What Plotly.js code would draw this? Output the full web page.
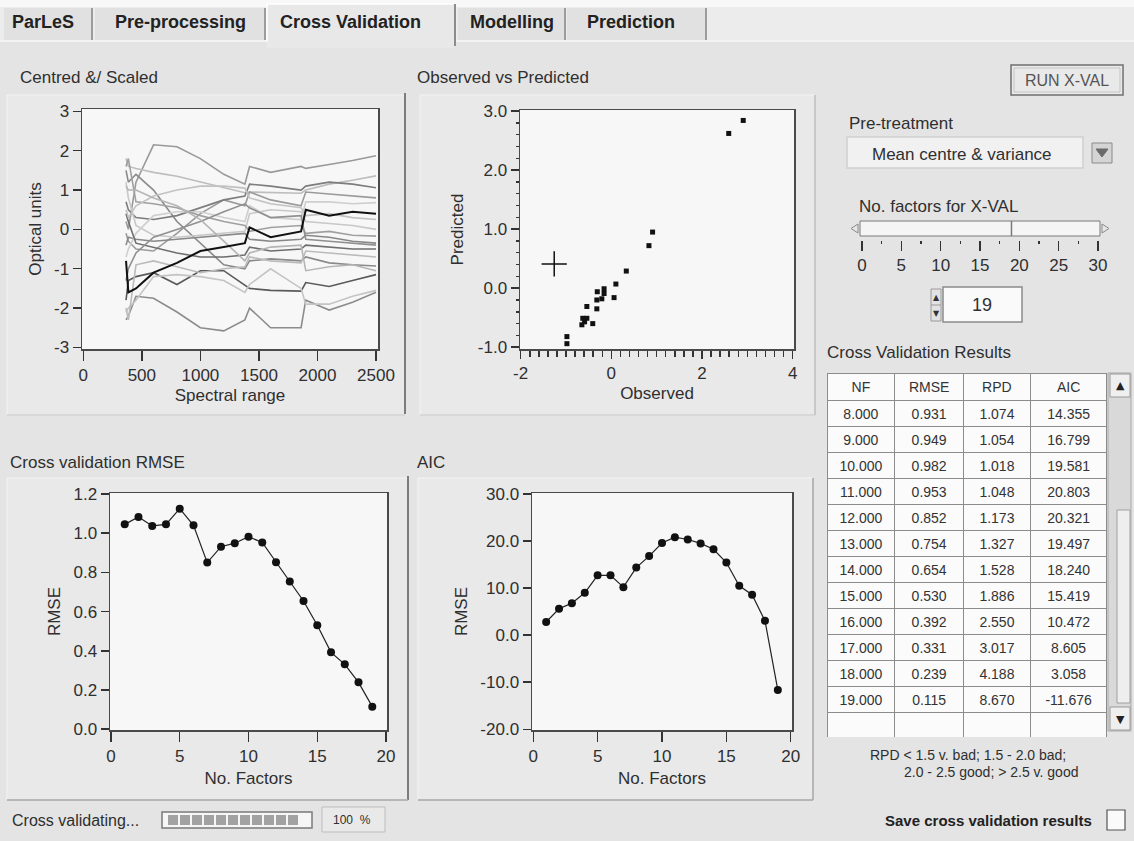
<!DOCTYPE html>
<html><head><meta charset="utf-8">
<script src="https://cdn.plot.ly/plotly-3.0.1.min.js"></script>
<style>html,body{margin:0;padding:0;background:#e4e4e4;overflow:hidden}</style>
</head><body><div id="chart" style="width:1134px;height:841px"></div>
<script>
// ================= DATA =================
// Centred & Scaled spectra (optical units at spectral positions)
const spectralX = [365, 385, 450, 600, 800, 1000, 1200, 1380, 1420, 1600, 1860, 1900, 2100, 2300, 2500];
const spectrum01 = [-0.8, -1.6, -1.5, -1.1, -0.85, -0.55, -0.45, -0.35, 0.05, -0.2, -0.05, 0.5, 0.35, 0.45, 0.4];
const spectrum02 = [-1.8, -1.3, -1.2, -1.1, -1.4, -1.05, -1.05, -1.4, -1.5, -1.55, -1.57, -1.35, -1.45, -1.3, -1.15];
const spectrum03 = [-2.3, -2.2, -1.7, -1.75, -2.1, -2.5, -2.58, -2.3, -2.0, -2.5, -2.5, -1.8, -2.05, -1.85, -1.6];
const spectrum04 = [-2.1, -2.0, -1.8, -1.2, -1.15, -1.2, -1.3, -1.6, -1.4, -1.0, -1.5, -1.9, -1.9, -1.7, -1.55];
const spectrum05 = [0.2, 0.0, 1.2, 2.15, 2.1, 1.8, 1.4, 1.15, 1.6, 1.45, 1.6, 1.55, 1.65, 1.75, 1.87];
const spectrum06 = [1.8, 1.6, 1.55, 1.45, 1.35, 1.2, 1.05, 0.93, 0.95, 0.93, 0.92, 1.0, 1.15, 1.25, 1.36];
const spectrum07 = [1.5, 1.2, 1.4, 1.0, 0.2, -0.35, -0.9, -1.0, -0.8, -0.75, -0.8, -0.7, -0.85, -0.9, -0.93];
const spectrum08 = [-0.1, -0.3, -0.5, -0.55, -0.1, 0.4, 0.75, 0.6, 0.95, 0.75, 0.6, 0.95, 0.9, 0.85, 0.8];
const spectrum09 = [0.7, 0.5, 0.3, 0.25, 0.35, 0.55, 0.75, 0.85, 1.15, 1.1, 1.0, 1.1, 1.2, 1.15, 1.06];
const spectrum10 = [1.2, 0.8, 0.1, -0.15, -0.2, -0.15, -0.1, -0.05, 0.4, 0.5, 0.45, 0.2, 0.15, 0.1, 0.0];
const spectrum11 = [-0.4, -0.2, -0.25, -0.3, -0.25, -0.2, -0.15, -0.1, -0.25, -0.3, -0.25, -0.15, -0.2, -0.3, -0.35];
const spectrum12 = [-0.7, -0.5, -0.1, 0.35, 0.45, 0.45, 0.3, 0.2, 0.6, 0.3, 0.25, 0.7, 0.7, 0.65, 0.68];
const spectrum13 = [0.4, 0.2, -0.35, -0.45, -0.6, -0.7, -0.7, -0.65, -0.45, -0.55, -0.5, -0.4, -0.45, -0.5, -0.5];
const spectrum14 = [-2.0, -2.3, -0.9, -0.8, -0.95, -1.1, -1.0, -0.95, -0.7, -0.8, -0.85, -0.55, -0.6, -0.65, -0.7];
const spectrum15 = [1.6, 1.8, 0.7, 0.65, 0.55, 0.35, 0.2, 0.1, -0.05, 0.05, 0.1, -0.1, -0.05, -0.15, -0.17];
const spectrum16 = [0.5, 0.3, 0.6, 0.85, 1.0, 1.1, 1.1, 1.05, 0.8, 0.65, 0.55, 0.35, 0.4, 0.3, 0.25];
const spectrum17 = [-1.3, -1.0, -0.6, -0.2, 0.0, 0.2, 0.45, 0.65, 0.55, 0.3, 0.35, -0.25, -0.3, -0.35, -0.4];
const spectrum18 = [1.1, 1.0, 1.0, 0.8, 0.6, 0.25, -0.3, -0.8, -0.6, -0.45, -0.4, -1.05, -0.95, -0.9, -1.05];
const spectralTicks = [0, 500, 1000, 1500, 2000, 2500];
const opticalTicks = [-3, -2, -1, 0, 1, 2, 3];
const opticalTickText = ['-3', '-2', '-1', '0', '1', '2', '3'];

// Observed vs Predicted
const observed  = [2.91, 2.59, 0.91, 0.83, 0.33, 0.10, 0.06, -0.16, -0.16, -0.21, -0.31, -0.32, -0.32, -0.54, -0.54, -0.59, -0.65, -0.41, -0.63, -0.98, -0.98];
const predicted = [2.84, 2.62, 0.95, 0.72, 0.29, 0.07, -0.16, -0.01, -0.09, -0.18, -0.06, -0.20, -0.35, -0.31, -0.51, -0.57, -0.62, -0.60, -0.51, -0.82, -0.94];
const cursorObserved = [-1.26];
const cursorPredicted = [0.41];
const observedTicks = [-2, 0, 2, 4];
const observedTickText = ['-2', '0', '2', '4'];
const predictedTicks = [-1, 0, 1, 2, 3];
const predictedTickText = ['-1.0', '0.0', '1.0', '2.0', '3.0'];

// Cross validation results by number of factors
const factors = [1, 2, 3, 4, 5, 6, 7, 8, 9, 10, 11, 12, 13, 14, 15, 16, 17, 18, 19];
const rmse = [1.045, 1.083, 1.037, 1.045, 1.125, 1.040, 0.850, 0.931, 0.949, 0.982, 0.953, 0.852, 0.754, 0.654, 0.530, 0.392, 0.331, 0.239, 0.115];
const aic  = [2.8, 5.6, 6.8, 9.0, 12.7, 12.7, 10.2, 14.355, 16.799, 19.581, 20.803, 20.321, 19.497, 18.240, 15.419, 10.472, 8.605, 3.058, -11.676];
const factorTicks = [0, 5, 10, 15, 20];
const rmseTicks = [0, 0.2, 0.4, 0.6, 0.8, 1.0, 1.2];
const aicTicks = [-20, -10, 0, 10, 20, 30];
const aicTickText = ['-20.0', '-10.0', '0.0', '10.0', '20.0', '30.0'];

// Results table (rows shown)
const tableNF   = [8, 9, 10, 11, 12, 13, 14, 15, 16, 17, 18, 19];
const tableRMSE = [0.931, 0.949, 0.982, 0.953, 0.852, 0.754, 0.654, 0.530, 0.392, 0.331, 0.239, 0.115];
const tableRPD  = [1.074, 1.054, 1.018, 1.048, 1.173, 1.327, 1.528, 1.886, 2.550, 3.017, 4.188, 8.670];
const tableAIC  = [14.355, 16.799, 19.581, 20.803, 20.321, 19.497, 18.240, 15.419, 10.472, 8.605, 3.058, -11.676];
const tableHeader = ['NF', 'RMSE', 'RPD', 'AIC'];

// Slider for number of factors
const sliderTicks = [0, 5, 10, 15, 20, 25, 30];
const selectedFactors = 19;
const progressPercent = 100;

// ================= DRAWING =================
const W = 1134, H = 841;
const F = 'Liberation Sans, Arial, sans-serif';
const TXT = '#2f2f2f';
const FS = 17;
const PX = x => x / W, PY = y => 1 - y / H;

function rect(x0, y0, x1, y1, fill, lc, lw) {
  return {type: 'rect', xref: 'paper', yref: 'paper', x0: PX(x0), x1: PX(x1), y0: PY(y1), y1: PY(y0),
    fillcolor: fill || 'rgba(0,0,0,0)', line: {color: lc || 'rgba(0,0,0,0)', width: lc ? (lw || 1) : 0}, layer: 'below'};
}
function seg(x0, y0, x1, y1, c, w) {
  return {type: 'line', xref: 'paper', yref: 'paper', x0: PX(x0), x1: PX(x1), y0: PY(y0), y1: PY(y1),
    line: {color: c, width: w || 1}, layer: 'below'};
}
function poly(pts, fill, lc) {
  const d = pts.map((p, i) => (i ? 'L ' : 'M ') + PX(p[0]) + ' ' + PY(p[1])).join(' ') + ' Z';
  return {type: 'path', xref: 'paper', yref: 'paper', path: d, fillcolor: fill, line: {color: lc || fill, width: 1}, layer: 'below'};
}
function ann(x, y, text, size, opts) {
  return Object.assign({xref: 'paper', yref: 'paper', x: PX(x), y: PY(y), text: text, showarrow: false,
    xanchor: 'left', yanchor: 'middle', font: {family: F, size: size, color: TXT}}, opts || {});
}
function plotBg(xa, ya, xr, yr) {
  return {type: 'rect', xref: xa, yref: ya, x0: xr[0], x1: xr[1], y0: yr[0], y1: yr[1],
    fillcolor: '#f7f7f7', line: {width: 0}, layer: 'below'};
}

const ranges = {
  x1: [-11, 2517], y1: [-3.04, 3.06],
  x2: [-2.015, 4.03], y2: [-1.03, 3.017],
  x3: [-0.07, 20.07], y3: [-0.004, 1.205],
  x4: [-0.1, 20.1], y4: [-20.15, 30.2]
};

const spectra = [spectrum02, spectrum03, spectrum04, spectrum05, spectrum06, spectrum07, spectrum08, spectrum09,
  spectrum10, spectrum11, spectrum12, spectrum13, spectrum14, spectrum15, spectrum16, spectrum17, spectrum18, spectrum01];
const spectraColors = ['#5a5a5a', '#8c8c8c', '#c4c4c4', '#999999', '#bdbdbd', '#8a8a8a', '#9a9a9a', '#7d7d7d',
  '#c8c8c8', '#888888', '#cfcfcf', '#6e6e6e', '#bbbbbb', '#a0a0a0', '#c2c2c2', '#909090', '#b5b5b5', '#111111'];

const traces = [];
spectra.forEach((s, i) => {
  traces.push({type: 'scatter', mode: 'lines', x: spectralX, y: s, xaxis: 'x', yaxis: 'y',
    line: {color: spectraColors[i], width: i === spectra.length - 1 ? 2 : 1.6}, hoverinfo: 'skip'});
});
traces.push({type: 'scatter', mode: 'markers', x: observed, y: predicted, xaxis: 'x2', yaxis: 'y2',
  marker: {symbol: 'square', size: 5, color: '#111'}, hoverinfo: 'skip'});
traces.push({type: 'scatter', mode: 'markers', x: cursorObserved, y: cursorPredicted, xaxis: 'x2', yaxis: 'y2',
  marker: {symbol: 'cross-thin-open', size: 18, color: '#111', line: {color: '#111', width: 1.5}}, hoverinfo: 'skip'});
traces.push({type: 'scatter', mode: 'lines+markers', x: factors, y: rmse, xaxis: 'x3', yaxis: 'y3',
  line: {color: '#222', width: 1.2}, marker: {symbol: 'circle', size: 8, color: '#111'}, hoverinfo: 'skip'});
traces.push({type: 'scatter', mode: 'lines+markers', x: factors, y: aic, xaxis: 'x4', yaxis: 'y4',
  line: {color: '#222', width: 1.2}, marker: {symbol: 'circle', size: 8, color: '#111'}, hoverinfo: 'skip'});
traces.push({type: 'scatter', mode: 'markers', x: [selectedFactors], y: [0.5], xaxis: 'x5', yaxis: 'y5',
  marker: {opacity: 0}, hoverinfo: 'skip'});

const fmt = v => v.toFixed(3);
traces.push({type: 'table',
  domain: {x: [PX(827), PX(1108)], y: [PY(738), PY(373)]},
  columnwidth: [68, 69, 67, 77],
  header: {values: tableHeader, height: 27, align: 'center', fill: {color: '#fbfbfb'},
    line: {color: '#8c8c8c', width: 1}, font: {family: F, size: 14, color: '#333'}},
  cells: {values: [tableNF.map(fmt).concat(['']), tableRMSE.map(fmt).concat(['']),
                   tableRPD.map(fmt).concat(['']), tableAIC.map(fmt).concat([''])],
    height: 26, align: 'center', fill: {color: '#fbfbfb'},
    line: {color: '#8c8c8c', width: 1}, font: {family: F, size: 14, color: '#333'}}
});

const axBase = {showline: true, mirror: true, linecolor: '#4a4a4a', linewidth: 1.5, ticks: 'outside',
  tickcolor: '#333', tickwidth: 1.5, showgrid: false, zeroline: false, fixedrange: true, automargin: false,
  tickfont: {family: F, size: FS, color: TXT}};
const ttl = (t, s) => ({text: t, standoff: s, font: {family: F, size: FS, color: TXT}});

const layout = {
  width: W, height: H, margin: {l: 0, r: 0, t: 0, b: 0, pad: 0},
  paper_bgcolor: '#e4e4e4', plot_bgcolor: 'rgba(0,0,0,0)', showlegend: false,
  font: {family: F, color: TXT},
  xaxis: Object.assign({}, axBase, {domain: [PX(82), PX(378)], anchor: 'y', range: ranges.x1,
    tickmode: 'array', tickvals: spectralTicks, ticklen: 10, title: ttl('Spectral range', 5)}),
  yaxis: Object.assign({}, axBase, {domain: [PY(349), PY(109)], anchor: 'x', range: ranges.y1,
    tickmode: 'array', tickvals: opticalTicks, ticktext: opticalTickText, ticklen: 8, title: ttl('Optical units', 8)}),
  xaxis2: Object.assign({}, axBase, {domain: [PX(520), PX(794)], anchor: 'y2', range: ranges.x2,
    tickmode: 'array', tickvals: observedTicks, ticktext: observedTickText, ticklen: 8,
    minor: {ticks: 'outside', tick0: 0, dtick: 0.2, ticklen: 6, tickwidth: 1.5, tickcolor: '#333'},
    title: ttl('Observed', 5)}),
  yaxis2: Object.assign({}, axBase, {domain: [PY(349), PY(110)], anchor: 'x2', range: ranges.y2,
    tickmode: 'array', tickvals: predictedTicks, ticktext: predictedTickText, ticklen: 8,
    minor: {ticks: 'outside', tick0: 0, dtick: 0.2, ticklen: 3, tickwidth: 1.5, tickcolor: '#333'},
    title: ttl('Predicted', 10)}),
  xaxis3: Object.assign({}, axBase, {domain: [PX(110), PX(387)], anchor: 'y3', range: ranges.x3,
    tickmode: 'array', tickvals: factorTicks, ticklen: 10, title: ttl('No. Factors', 7)}),
  yaxis3: Object.assign({}, axBase, {domain: [PY(730), PY(493)], anchor: 'x3', range: ranges.y3,
    tickmode: 'array', tickvals: rmseTicks, tickformat: '.1f', ticklen: 8, title: ttl('RMSE', 8)}),
  xaxis4: Object.assign({}, axBase, {domain: [PX(532), PX(792)], anchor: 'y4', range: ranges.x4,
    tickmode: 'array', tickvals: factorTicks, ticklen: 10, title: ttl('No. Factors', 7)}),
  yaxis4: Object.assign({}, axBase, {domain: [PY(730), PY(493)], anchor: 'x4', range: ranges.y4,
    tickmode: 'array', tickvals: aicTicks, ticktext: aicTickText, ticklen: 8, title: ttl('RMSE', 8)}),
  xaxis5: {domain: [PX(860), PX(1100)], anchor: 'y5', range: [-0.25, 30.25], showline: false, showgrid: false,
    zeroline: false, fixedrange: true, ticks: 'outside', ticklen: 10, tickwidth: 1.5, tickcolor: '#333',
    tickmode: 'array', tickvals: sliderTicks, tickfont: {family: F, size: FS, color: TXT},
    minor: {ticks: 'outside', tick0: 0, dtick: 2.5, ticklen: 3, tickwidth: 1.5, tickcolor: '#333'}},
  yaxis5: {domain: [PY(240), PY(221)], anchor: 'x5', range: [0, 1], showline: false, showgrid: false,
    zeroline: false, showticklabels: false, ticks: '', fixedrange: true},
  shapes: [], annotations: []
};

const S = layout.shapes, A = layout.annotations;
const tabFont = {family: F, size: 18, color: '#222'};

// ---- tab strip ----
S.push(rect(0, 0, 1134, 7, '#f8f8f8'));
S.push(rect(0, 7, 1134, 41, '#ececec'));
S.push(rect(4, 8, 92, 40, '#e1e1e1'));
S.push(seg(92, 8, 92, 40, '#9c9c9c', 2));
S.push(rect(95, 8, 265, 40, '#e1e1e1'));
S.push(seg(265, 8, 265, 40, '#9c9c9c', 2));
S.push(rect(267, 4, 455, 48, '#e8e8e8'));
S.push(seg(267, 4, 267, 42, '#ffffff', 1.5));
S.push(seg(267, 4, 455, 4, '#ffffff', 1.5));
S.push(seg(455, 4, 455, 46, '#8c8c8c', 2));
S.push(rect(458, 8, 565, 40, '#e1e1e1'));
S.push(seg(565, 8, 565, 40, '#9c9c9c', 2));
S.push(rect(567, 8, 706, 40, '#e1e1e1'));
S.push(seg(706, 8, 706, 40, '#9c9c9c', 2));
S.push(seg(0, 41, 266, 41, '#f7f7f7', 1.5));
S.push(seg(456, 41, 1134, 41, '#f7f7f7', 1.5));
A.push(ann(43, 22, '<b>ParLeS</b>', 18, {xanchor: 'center', font: tabFont}));
A.push(ann(180, 22, '<b>Pre-processing</b>', 18, {xanchor: 'center', font: tabFont}));
A.push(ann(350, 22, '<b>Cross Validation</b>', 18, {xanchor: 'center', font: tabFont}));
A.push(ann(512, 22, '<b>Modelling</b>', 18, {xanchor: 'center', font: tabFont}));
A.push(ann(631, 22, '<b>Prediction</b>', 18, {xanchor: 'center', font: tabFont}));

// ---- panels ----
S.push(rect(7, 95, 405, 415, '#e9e9e9', '#f4f4f4', 1));
S.push(seg(405, 93, 405, 414, '#7c7c7c', 2));
S.push(seg(7, 415, 405, 415, '#c2c2c2', 1));
S.push(rect(420, 95, 815, 415, '#e9e9e9', '#f4f4f4', 1));
S.push(seg(815, 95, 815, 415, '#bcbcbc', 1.5));
S.push(seg(420, 415, 815, 415, '#c2c2c2', 1));
S.push(rect(7, 478, 408, 800, '#e9e9e9', '#f4f4f4', 1));
S.push(seg(408, 476, 408, 800, '#7c7c7c', 2));
S.push(seg(7, 800, 408, 800, '#a4a4a4', 1.5));
S.push(rect(418, 478, 813, 800, '#e9e9e9', '#f4f4f4', 1));
S.push(seg(813, 478, 813, 800, '#a4a4a4', 1.5));
S.push(seg(418, 800, 813, 800, '#a4a4a4', 1.5));
S.push(plotBg('x', 'y', ranges.x1, ranges.y1));
S.push(plotBg('x2', 'y2', ranges.x2, ranges.y2));
S.push(plotBg('x3', 'y3', ranges.x3, ranges.y3));
S.push(plotBg('x4', 'y4', ranges.x4, ranges.y4));
A.push(ann(18, 78, 'Centred &/ Scaled', FS));
A.push(ann(415, 77, 'Observed vs Predicted', FS));
A.push(ann(8, 462, 'Cross validation RMSE', FS));
A.push(ann(415, 462, 'AIC', FS));

// ---- right-hand controls ----
S.push(rect(1011, 65, 1123, 95, '#e9e9e9', '#6f6f6f', 1.5));
S.push(rect(1014, 68, 1120, 92, 'rgba(0,0,0,0)', '#c4c4c4', 1));
A.push(ann(1067, 80, 'RUN X-VAL', 16, {xanchor: 'center', font: {family: F, size: 16, color: '#555'}}));
A.push(ann(847, 123, 'Pre-treatment', FS));
S.push(rect(847, 137, 1083, 168, '#f1f1f1', '#cfcfcf', 1.5));
A.push(ann(962, 154, 'Mean centre &amp; variance', FS, {xanchor: 'center'}));
S.push(rect(1092, 143, 1112, 163, '#d4d4d4', '#8a8a8a', 1));
S.push(poly([[1096, 149], [1108, 149], [1102, 157]], '#6a6a6a'));
A.push(ann(857, 207, 'No. factors for X-VAL', FS));
S.push(rect(860, 221, 1100, 236, '#f5f5f5', '#7a7a7a', 1));
S.push({type: 'line', xref: 'x5', yref: 'paper', x0: selectedFactors, x1: selectedFactors, y0: PY(236), y1: PY(221),
  line: {color: '#7a7a7a', width: 1.5}, layer: 'below'});
S.push(poly([[858, 224], [851, 228.5], [858, 233]], '#e6e6e6', '#8a8a8a'));
S.push(poly([[1102, 224], [1109, 228.5], [1102, 233]], '#e6e6e6', '#8a8a8a'));
// numeric control
S.push(rect(931, 289, 941, 321, '#e2e2e2', '#9a9a9a', 1));
S.push(seg(931, 305, 941, 305, '#9a9a9a', 1));
A.push(ann(936, 297, '▲', 8, {xanchor: 'center', font: {family: 'DejaVu Sans', size: 8, color: '#333'}}));
A.push(ann(936, 313, '▼', 8, {xanchor: 'center', font: {family: 'DejaVu Sans', size: 8, color: '#333'}}));
S.push(rect(943, 287, 1022, 322, '#fafafa', '#8a8a8a', 1.5));
A.push(ann(982, 305, String(selectedFactors), 18, {xanchor: 'center'}));
A.push(ann(825, 352, 'Cross Validation Results', FS));

// table scrollbar
S.push(rect(1108, 373, 1131, 731, '#d9d9d9', '#a8a8a8', 1));
S.push(rect(1110, 374, 1130, 397, '#efefef', '#9a9a9a', 1));
S.push(rect(1117, 510, 1130, 703, '#eeeeee', '#a0a0a0', 1));
S.push(rect(1110, 707, 1130, 730, '#efefef', '#9a9a9a', 1));
A.push(ann(1120, 386, '▲', 11, {xanchor: 'center', font: {family: 'DejaVu Sans', size: 11, color: '#222'}}));
A.push(ann(1120, 719, '▼', 11, {xanchor: 'center', font: {family: 'DejaVu Sans', size: 11, color: '#222'}}));
A.push(ann(968, 755, 'RPD &lt; 1.5 v. bad; 1.5 - 2.0 bad;', 14, {xanchor: 'center'}));
A.push(ann(991, 772, '2.0 - 2.5 good; &gt; 2.5 v. good', 14, {xanchor: 'center'}));

// ---- bottom status row ----
A.push(ann(10, 820, 'Cross validating...', 16));
S.push(rect(162, 812, 312, 828, '#f6f6f6', '#7a7a7a', 1.5));
const nBlocks = Math.round(progressPercent / 100 * 11);
for (let i = 0; i < nBlocks; i++) S.push(rect(168 + i * 12, 815, 178 + i * 12, 825, '#a2a2a2'));
S.push(rect(322, 807, 385, 832, '#e9e9e9', '#bdbdbd', 1));
A.push(ann(352, 820, progressPercent + '  %', 12, {xanchor: 'center'}));
A.push(ann(1094, 820, '<b>Save cross validation results</b>', 15, {xanchor: 'right', font: {family: F, size: 15, color: '#222'}}));
S.push(rect(1107, 810, 1125, 830, '#fafafa', '#555555', 1.2));

Plotly.newPlot('chart', traces, layout, {staticPlot: true, displayModeBar: false});
</script>
</body></html>
